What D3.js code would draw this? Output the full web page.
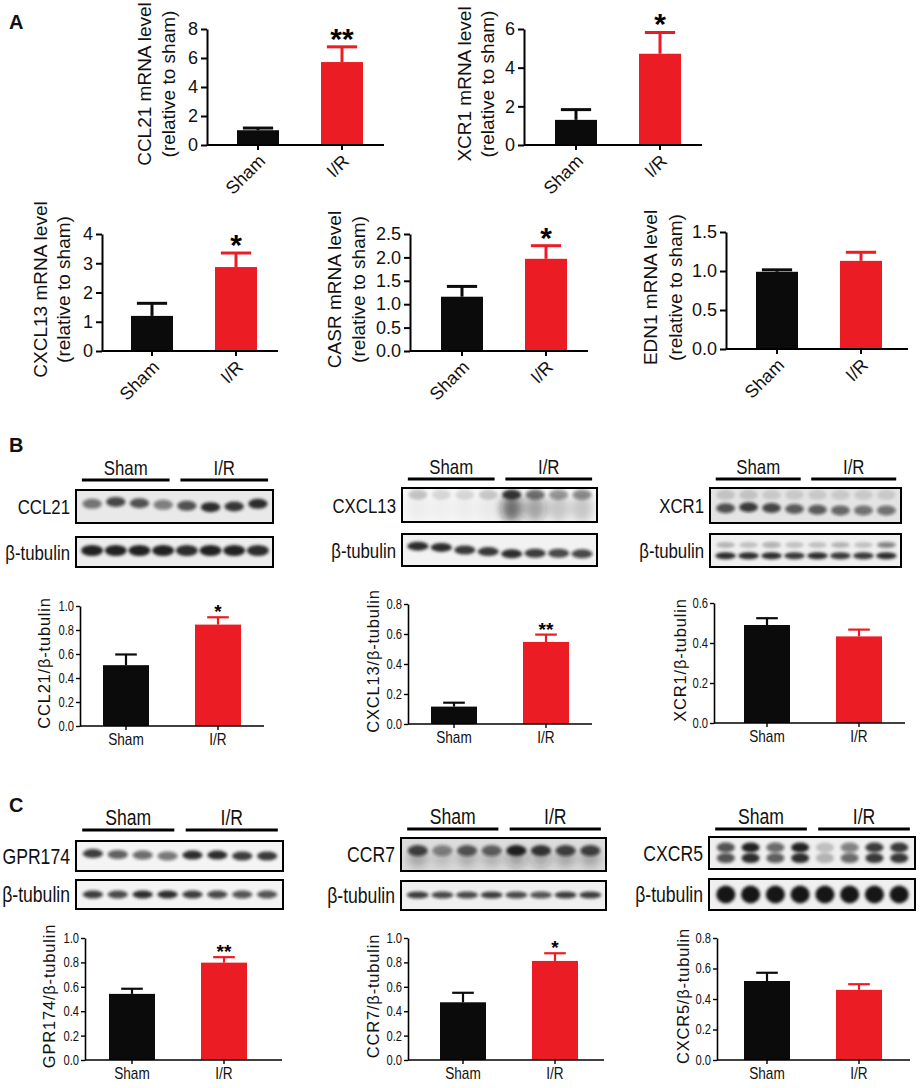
<!DOCTYPE html>
<html>
<head>
<meta charset="utf-8">
<script src="https://cdn.jsdelivr.net/npm/d3@7"></script>
<style>
  body { margin: 0; background: #fff; }
  svg { display: block; }
</style>
</head>
<body>
<svg id="fig" width="920" height="1088"></svg>
<script>
// ---------- data ----------
const groups = ["Sham", "I/R"];

// A: qPCR (relative to sham), mean and SEM
const ccl21MrnaMean = [1.02, 5.72],  ccl21MrnaSem = [0.15, 1.05],  ccl21MrnaSig = ["", "**"];
const xcr1MrnaMean  = [1.30, 4.72],  xcr1MrnaSem  = [0.53, 1.10],  xcr1MrnaSig  = ["", "*"];
const cxcl13MrnaMean = [1.20, 2.87], cxcl13MrnaSem = [0.43, 0.48], cxcl13MrnaSig = ["", "*"];
const casrMrnaMean  = [1.16, 1.97],  casrMrnaSem  = [0.22, 0.28],  casrMrnaSig  = ["", "*"];
const edn1MrnaMean  = [0.99, 1.13],  edn1MrnaSem  = [0.025, 0.11], edn1MrnaSig  = ["", ""];

// B / C: densitometry (protein / beta-tubulin)
const ccl21WbMean  = [0.507, 0.845], ccl21WbSem  = [0.089, 0.061], ccl21WbSig  = ["", "*"];
const cxcl13WbMean = [0.116, 0.547], cxcl13WbSem = [0.026, 0.049], cxcl13WbSig = ["", "**"];
const xcr1WbMean   = [0.490, 0.433], xcr1WbSem   = [0.034, 0.034], xcr1WbSig   = ["", ""];
const gpr174WbMean = [0.542, 0.798], gpr174WbSem = [0.042, 0.045], gpr174WbSig = ["", "**"];
const ccr7WbMean   = [0.473, 0.812], ccr7WbSem   = [0.078, 0.063], ccr7WbSig   = ["", "*"];
const cxcr5WbMean  = [0.518, 0.460], cxcr5WbSem  = [0.054, 0.037], cxcr5WbSig  = ["", ""];

// tick values
const ticks0to8 = [0, 2, 4, 6, 8];
const ticks0to6 = [0, 2, 4, 6];
const ticks0to4 = [0, 1, 2, 3, 4];
const ticks0to25 = [0, 0.5, 1, 1.5, 2, 2.5];
const ticks0to15 = [0, 0.5, 1, 1.5];
const ticks0to1 = [0, 0.2, 0.4, 0.6, 0.8, 1.0];
const ticks0to08 = [0, 0.2, 0.4, 0.6, 0.8];
const ticks0to06 = [0, 0.2, 0.4, 0.6];

// band darkness per lane (4 Sham, 4 I/R), estimated from the blots
const ccl21Bands     = [0.55, 0.75, 0.70, 0.50, 0.70, 0.90, 0.85, 0.90];
const ccl21TubBands  = [0.95, 0.95, 0.95, 0.95, 0.90, 0.95, 0.95, 0.90];
const cxcl13Bands    = [0.20, 0.12, 0.12, 0.18, 0.85, 0.55, 0.40, 0.45];
const cxcl13Smear    = [0.04, 0.03, 0.04, 0.05, 0.60, 0.38, 0.20, 0.20];
const cxcl13TubBands = [0.90, 0.90, 0.85, 0.85, 0.90, 0.80, 0.75, 0.75];
const xcr1Bands      = [0.70, 0.80, 0.75, 0.65, 0.65, 0.60, 0.55, 0.55];
const xcr1TopBands   = [0.15, 0.15, 0.12, 0.12, 0.12, 0.12, 0.12, 0.12];
const xcr1TubUpper   = [0.25, 0.20, 0.30, 0.20, 0.20, 0.25, 0.20, 0.50];
const xcr1TubLower   = [0.90, 0.90, 0.90, 0.85, 0.90, 0.85, 0.85, 0.90];
const gpr174Bands    = [0.80, 0.65, 0.60, 0.55, 0.90, 0.90, 0.80, 0.85];
const gpr174TubBands = [0.80, 0.75, 0.90, 0.90, 0.80, 0.75, 0.70, 0.70];
const ccr7Bands      = [0.75, 0.45, 0.65, 0.60, 0.95, 0.85, 0.75, 0.75];
const ccr7TubBands   = [0.80, 0.75, 0.75, 0.80, 0.75, 0.70, 0.80, 0.80];
const cxcr5Upper     = [0.70, 0.95, 0.60, 0.95, 0.20, 0.50, 0.80, 0.85];
const cxcr5Lower     = [0.70, 0.90, 0.65, 0.90, 0.25, 0.60, 0.85, 0.85];
const cxcr5TubBands  = [1, 1, 1, 1, 1, 1, 1, 1];

// ---------- drawing ----------
const REG = "'Liberation Sans', Arial, Helvetica, sans-serif";
const NARROW = 0.8;   // horizontal squeeze, mimics Arial Narrow
const barColors = ["#0b0b0b", "#ec1c24"];

const svg = d3.select("#fig");
const defs = svg.append("defs");
defs.append("filter").attr("id", "blur").attr("x", "-50%").attr("y", "-100%").attr("width", "200%").attr("height", "300%")
  .append("feGaussianBlur").attr("stdDeviation", 1.8);
defs.append("filter").attr("id", "blurBig").attr("x", "-50%").attr("y", "-100%").attr("width", "200%").attr("height", "300%")
  .append("feGaussianBlur").attr("stdDeviation", 5);

// squeeze text horizontally (no narrow font installed)
function condense(sel) {
  sel.each(function () {
    const L = this.getComputedTextLength();
    if (L > 0) d3.select(this).attr("textLength", L * NARROW).attr("lengthAdjust", "spacingAndGlyphs");
  });
}

function drawBar(c) {
  const g = svg.append("g");
  const big = c.style === "A";
  const y = d3.scaleLinear().domain([0, c.ticks[c.ticks.length - 1]]).range([c.y0, c.yTop]);
  const x = d3.scaleBand().domain(groups).range([c.r0, c.r0 + c.R]).paddingInner(0.5).paddingOuter(0.25);
  const bw = x.bandwidth();

  g.selectAll("rect").data(c.mean).join("rect")
    .attr("x", (d, i) => x(groups[i]))
    .attr("y", d => y(d))
    .attr("width", bw)
    .attr("height", d => c.y0 - y(d))
    .attr("fill", (d, i) => barColors[i]);

  // error bars (upper only)
  const capW = bw * (big ? 0.72 : 0.47);
  const ew = big ? 3 : 2.2;
  c.mean.forEach((m, i) => {
    const cx = x(groups[i]) + bw / 2;
    g.append("line").attr("x1", cx).attr("x2", cx).attr("y1", y(m)).attr("y2", y(m + c.sem[i]))
      .attr("stroke", barColors[i]).attr("stroke-width", ew);
    g.append("line").attr("x1", cx - capW / 2).attr("x2", cx + capW / 2)
      .attr("y1", y(m + c.sem[i])).attr("y2", y(m + c.sem[i]))
      .attr("stroke", barColors[i]).attr("stroke-width", ew);
  });

  // y axis
  const ya = g.append("g").attr("transform", `translate(${c.x0},0)`)
    .call(d3.axisLeft(y).tickValues(c.ticks).tickFormat(c.fmt).tickSize(big ? 6 : 4).tickSizeOuter(0).tickPadding(big ? 3 : 2));
  ya.select(".domain").attr("stroke-width", big ? 2 : 1.6);
  ya.selectAll(".tick line").attr("stroke-width", big ? 2 : 1.4);
  ya.selectAll("text").attr("font-family", REG).attr("font-size", big ? 18 : 14).attr("fill", "#111");
  if (!big) condense(ya.selectAll("text"));

  // x axis
  const xa = g.append("g").attr("transform", `translate(0,${c.y0})`)
    .call(d3.axisBottom(x).tickSize(big ? 5 : 4).tickSizeOuter(0));
  xa.select(".domain").remove();
  xa.selectAll(".tick line").attr("stroke-width", big ? 2 : 1.4);
  xa.append("line").attr("x1", c.x0).attr("x2", c.xEnd).attr("stroke", "#000").attr("stroke-width", big ? 2 : 1.6);
  if (big) {
    xa.selectAll(".tick text")
      .attr("y", 0).attr("dy", null).attr("x", 0)
      .attr("transform", "translate(4,13) rotate(-45)")
      .attr("text-anchor", "end").attr("dominant-baseline", "central")
      .attr("font-family", REG).attr("font-size", 18).attr("fill", "#111");
  } else {
    xa.selectAll(".tick text").attr("y", 6).attr("dy", "0.75em")
      .attr("font-family", REG).attr("font-size", 17).attr("fill", "#111");
    condense(xa.selectAll(".tick text"));
  }

  // significance
  g.selectAll("text.sig").data(c.sig).join("text").attr("class", "sig")
    .attr("x", (d, i) => x(groups[i]) + bw / 2)
    .attr("y", (d, i) => y(c.mean[i] + c.sem[i]) + (big ? 2 : 1))
    .attr("text-anchor", "middle")
    .attr("font-family", REG).attr("font-weight", "bold")
    .attr("font-size", big ? 30 : 19)
    .text(d => d);

  // y label
  const ly = (c.y0 + c.yTop) / 2 - 3;
  c.labels.forEach((t, k) => {
    g.append("text")
      .attr("transform", `translate(${c.x0 + c.labelDx[k]},${ly}) rotate(-90)`)
      .attr("text-anchor", "middle").attr("dominant-baseline", "central")
      .attr("font-family", REG).attr("font-size", big ? 19 : 16.5)
      .attr("letter-spacing", big ? 0 : 0.8)
      .attr("fill", "#111")
      .text(t);
  });
}

let clipN = 0;
function drawBlot(b) {
  const g = svg.append("g");
  const id = "clip" + (clipN++);
  defs.append("clipPath").attr("id", id).append("rect")
    .attr("x", b.x).attr("y", b.y).attr("width", b.w).attr("height", b.h);
  g.append("rect").attr("x", b.x).attr("y", b.y).attr("width", b.w).attr("height", b.h).attr("fill", b.bg);
  const lane = d3.scaleBand().domain(d3.range(8))
    .range([b.x + b.w * 0.03, b.x + b.w * 0.975]).paddingInner(0.14);
  const inner = g.append("g").attr("clip-path", `url(#${id})`);
  b.layers.forEach(L => {
    inner.append("g").attr("filter", `url(#${L.blur || "blur"})`)
      .selectAll("ellipse").data(L.v).join("ellipse")
      .attr("cx", (d, i) => lane(i) + lane.bandwidth() / 2)
      .attr("cy", (d, i) => b.y + b.h * (Array.isArray(L.fy) ? L.fy[i] : L.fy))
      .attr("rx", lane.bandwidth() / 2 * (L.rx || 0.95))
      .attr("ry", L.ry)
      .attr("fill", "#141414")
      .attr("fill-opacity", d => d);
  });
  g.append("rect").attr("x", b.x).attr("y", b.y).attr("width", b.w).attr("height", b.h)
    .attr("fill", "none").attr("stroke", "#000").attr("stroke-width", 2);
  const t = g.append("text").attr("x", b.x - 6).attr("y", b.y + b.h / 2)
    .attr("text-anchor", "end").attr("dominant-baseline", "central")
    .attr("font-family", REG).attr("font-size", b.fs).attr("fill", "#111")
    .text(b.label);
  condense(t);
}

function drawHeader(x, w, y, fs) {
  const spans = [[0.03, 0.475], [0.53, 0.975]];
  spans.forEach((s, i) => {
    svg.append("line").attr("x1", x + w * s[0]).attr("x2", x + w * s[1]).attr("y1", y).attr("y2", y)
      .attr("stroke", "#000").attr("stroke-width", 3);
    const t = svg.append("text").attr("x", x + w * (s[0] + s[1]) / 2).attr("y", y - 13)
      .attr("text-anchor", "middle").attr("dominant-baseline", "central")
      .attr("font-family", REG).attr("font-size", fs).attr("fill", "#111")
      .text(groups[i]);
    condense(t);
  });
}

function panelLetter(t, x, y) {
  svg.append("text").attr("x", x).attr("y", y).attr("font-family", REG).attr("font-weight", "bold")
    .attr("font-size", 20).attr("fill", "#111").text(t);
}

const fmtInt = d3.format("d"), fmt1 = d3.format(".1f");
const mrnaLabels = name => [`${name} mRNA level`, "(relative to sham)"];

// ---------- Panel A ----------
panelLetter("A", 9, 29);
drawBar({ style: "A", mean: ccl21MrnaMean, sem: ccl21MrnaSem, sig: ccl21MrnaSig, ticks: ticks0to8, fmt: fmtInt,
  labels: mrnaLabels("CCL21"), labelDx: [-63, -39], x0: 207, xEnd: 384, y0: 145, yTop: 29, r0: 216, R: 168 });
drawBar({ style: "A", mean: xcr1MrnaMean, sem: xcr1MrnaSem, sig: xcr1MrnaSig, ticks: ticks0to6, fmt: fmtInt,
  labels: mrnaLabels("XCR1"), labelDx: [-60, -37], x0: 524, xEnd: 702, y0: 145, yTop: 29, r0: 534, R: 168 });
drawBar({ style: "A", mean: cxcl13MrnaMean, sem: cxcl13MrnaSem, sig: cxcl13MrnaSig, ticks: ticks0to4, fmt: fmtInt,
  labels: mrnaLabels("CXCL13"), labelDx: [-62, -39], x0: 102, xEnd: 278, y0: 351, yTop: 234, r0: 110, R: 168 });
drawBar({ style: "A", mean: casrMrnaMean, sem: casrMrnaSem, sig: casrMrnaSig, ticks: ticks0to25, fmt: fmt1,
  labels: mrnaLabels("CASR"), labelDx: [-76, -52], x0: 410, xEnd: 588, y0: 351, yTop: 234, r0: 420, R: 168 });
drawBar({ style: "A", mean: edn1MrnaMean, sem: edn1MrnaSem, sig: edn1MrnaSig, ticks: ticks0to15, fmt: fmt1,
  labels: mrnaLabels("EDN1"), labelDx: [-76, -51], x0: 726, xEnd: 908, y0: 349, yTop: 232, r0: 735, R: 168 });

// ---------- Panel B ----------
panelLetter("B", 9, 452);
drawHeader(76, 197, 480, 21);
drawHeader(402, 195, 479, 21);
drawHeader(710, 191, 479, 21);
drawBlot({ x: 76, y: 490, w: 197, h: 33, bg: "#e9e9e9", label: "CCL21", fs: 21,
  layers: [{ v: ccl21Bands, fy: [0.42, 0.36, 0.4, 0.45, 0.48, 0.52, 0.5, 0.42], ry: 5 }] });
drawBlot({ x: 76, y: 537, w: 197, h: 30, bg: "#ededed", label: "β-tubulin", fs: 21,
  layers: [{ v: ccl21TubBands, fy: 0.45, ry: 5.5, rx: 1.08 }] });
drawBlot({ x: 402, y: 488, w: 195, h: 34, bg: "#f7f7f7", label: "CXCL13", fs: 21,
  layers: [{ v: cxcl13Smear, fy: 0.6, ry: 14, blur: "blurBig", rx: 1.05 },
           { v: cxcl13Bands, fy: 0.2, ry: 5 }] });
drawBlot({ x: 402, y: 534, w: 195, h: 32, bg: "#f2f2f2", label: "β-tubulin", fs: 21,
  layers: [{ v: cxcl13TubBands, fy: [0.38, 0.42, 0.5, 0.55, 0.62, 0.6, 0.6, 0.62], ry: 4.5, rx: 1.05 }] });
drawBlot({ x: 710, y: 488, w: 191, h: 35, bg: "#e4e4e4", label: "XCR1", fs: 21,
  layers: [{ v: xcr1TopBands, fy: 0.2, ry: 5 },
           { v: xcr1Bands, fy: [0.58, 0.55, 0.57, 0.6, 0.62, 0.64, 0.64, 0.64], ry: 5 }] });
drawBlot({ x: 710, y: 534, w: 191, h: 33, bg: "#f0f0f0", label: "β-tubulin", fs: 21,
  layers: [{ v: xcr1TubUpper, fy: 0.33, ry: 3 },
           { v: xcr1TubLower, fy: 0.66, ry: 3.5, rx: 1.05 }] });

drawBar({ style: "B", mean: ccl21WbMean, sem: ccl21WbSem, sig: ccl21WbSig, ticks: ticks0to1, fmt: fmt1,
  labels: ["CCL21/β-tubulin"], labelDx: [-36], x0: 80, xEnd: 264, y0: 726, yTop: 606, r0: 80, R: 184 });
drawBar({ style: "B", mean: cxcl13WbMean, sem: cxcl13WbSem, sig: cxcl13WbSig, ticks: ticks0to08, fmt: fmt1,
  labels: ["CXCL13/β-tubulin"], labelDx: [-35], x0: 408, xEnd: 592, y0: 724, yTop: 604, r0: 408, R: 184 });
drawBar({ style: "B", mean: xcr1WbMean, sem: xcr1WbSem, sig: xcr1WbSig, ticks: ticks0to06, fmt: fmt1,
  labels: ["XCR1/β-tubulin"], labelDx: [-34], x0: 714, xEnd: 905, y0: 723, yTop: 603, r0: 721, R: 184 });

// ---------- Panel C ----------
panelLetter("C", 9, 812);
drawHeader(76, 207, 830, 22);
drawHeader(401, 205, 829, 22);
drawHeader(709, 206, 829, 22);
drawBlot({ x: 76, y: 841, w: 207, h: 30, bg: "#f4f4f4", label: "GPR174", fs: 22,
  layers: [{ v: gpr174Bands, fy: [0.42, 0.45, 0.47, 0.5, 0.47, 0.47, 0.5, 0.5], ry: 4.5 }] });
drawBlot({ x: 76, y: 880, w: 207, h: 29, bg: "#f4f4f4", label: "β-tubulin", fs: 22,
  layers: [{ v: gpr174TubBands, fy: 0.5, ry: 4 }] });
drawBlot({ x: 401, y: 838, w: 205, h: 33, bg: "#dddddd", label: "CCR7", fs: 22,
  layers: [{ v: ccr7Bands.map(d => d * 0.35), fy: 0.62, ry: 9, blur: "blurBig" },
           { v: ccr7Bands, fy: 0.38, ry: 5.5 }] });
drawBlot({ x: 401, y: 881, w: 205, h: 29, bg: "#f0f0f0", label: "β-tubulin", fs: 22,
  layers: [{ v: ccr7TubBands, fy: 0.48, ry: 3.5, rx: 1.05 }] });
drawBlot({ x: 709, y: 837, w: 206, h: 32, bg: "#efefef", label: "CXCR5", fs: 22,
  layers: [{ v: cxcr5Upper, fy: 0.33, ry: 5, rx: 0.85 },
           { v: cxcr5Lower, fy: 0.66, ry: 5, rx: 0.85 }] });
drawBlot({ x: 709, y: 879, w: 206, h: 31, bg: "#f0f0f0", label: "β-tubulin", fs: 22,
  layers: [{ v: cxcr5TubBands, fy: 0.5, ry: 9, rx: 0.9 }] });

drawBar({ style: "C", mean: gpr174WbMean, sem: gpr174WbSem, sig: gpr174WbSig, ticks: ticks0to1, fmt: fmt1,
  labels: ["GPR174/β-tubulin"], labelDx: [-36], x0: 85, xEnd: 282, y0: 1060, yTop: 938, r0: 86, R: 184 });
drawBar({ style: "C", mean: ccr7WbMean, sem: ccr7WbSem, sig: ccr7WbSig, ticks: ticks0to1, fmt: fmt1,
  labels: ["CCR7/β-tubulin"], labelDx: [-35], x0: 408, xEnd: 604, y0: 1060, yTop: 938, r0: 417, R: 184 });
drawBar({ style: "C", mean: cxcr5WbMean, sem: cxcr5WbSem, sig: cxcr5WbSig, ticks: ticks0to08, fmt: fmt1,
  labels: ["CXCR5/β-tubulin"], labelDx: [-34], x0: 717, xEnd: 910, y0: 1060, yTop: 938, r0: 721, R: 184 });
</script>
</body>
</html>
